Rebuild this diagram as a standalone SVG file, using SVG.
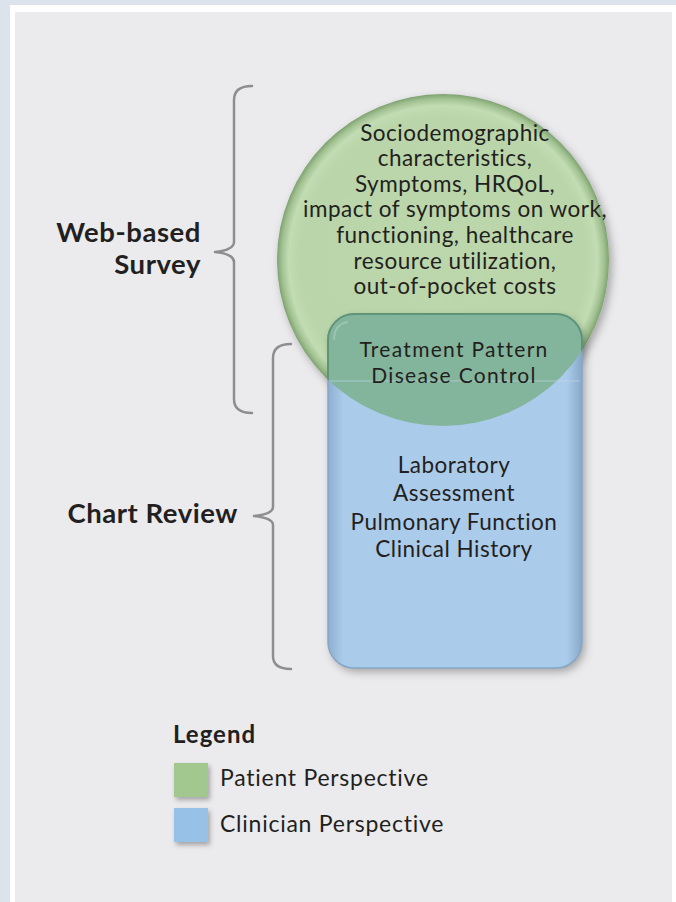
<svg xmlns="http://www.w3.org/2000/svg" width="676" height="902" viewBox="0 0 676 902">
  <style>
    .t { font-family: Lato, "Open Sans", "Liberation Sans", sans-serif; fill: #231f20; }
    .body { font-size: 22.5px; letter-spacing: 0.5px; text-anchor: middle; }
    .ov { font-size: 21px; letter-spacing: 1.3px; text-anchor: middle; }
    .lab { font-size: 27.5px; font-weight: bold; letter-spacing: 0.55px; text-anchor: end; }
    .leg { font-size: 23px; letter-spacing: 0.75px; }
    .legh { font-size: 24px; font-weight: bold; letter-spacing: 1px; }
    .brace { fill: none; stroke: #8e8e90; stroke-width: 2.5; stroke-linejoin: round; stroke-linecap: round; }
  </style>
  <defs>
    <radialGradient id="gCircle" cx="0.5" cy="0.5" r="0.5">
      <stop offset="0" stop-color="#bcd7ab"/>
      <stop offset="0.86" stop-color="#bad5a9"/>
      <stop offset="0.93" stop-color="#c2dcb3"/>
      <stop offset="0.97" stop-color="#a3c393"/>
      <stop offset="1" stop-color="#7fa170"/>
    </radialGradient>
    <clipPath id="clipCircle">
      <circle cx="443" cy="260" r="166"/>
    </clipPath>
    <filter id="shadow" x="-20%" y="-20%" width="140%" height="140%">
      <feDropShadow dx="3" dy="4" stdDeviation="4" flood-color="#000" flood-opacity="0.3"/>
    </filter>
    <filter id="sqShadow" x="-30%" y="-30%" width="170%" height="170%">
      <feDropShadow dx="2" dy="3" stdDeviation="2.5" flood-color="#000" flood-opacity="0.3"/>
    </filter>
    <linearGradient id="gRectEdge" x1="0" y1="0" x2="1" y2="0">
      <stop offset="0" stop-color="#8eaed0"/>
      <stop offset="0.06" stop-color="#abcbea"/>
      <stop offset="0.94" stop-color="#abcbea"/>
      <stop offset="1" stop-color="#88a8c8"/>
    </linearGradient>
  </defs>

  <!-- frame -->
  <rect x="0" y="0" width="676" height="902" fill="#dce3ec"/>
  <rect x="10" y="5" width="666" height="897" fill="#ffffff"/>
  <rect x="15" y="12" width="657" height="890" fill="#ebebed"/>

  <!-- circle node -->
  <g id="web-survey-circle">
    <circle cx="443" cy="260" r="166" fill="url(#gCircle)" filter="url(#shadow)"/>
  </g>

  <!-- rectangle node -->
  <g id="chart-review-rect">
    <rect x="328" y="314" width="254" height="354" rx="26" fill="url(#gRectEdge)" filter="url(#shadow)"/>
    <rect x="328" y="314" width="254" height="354" rx="26" fill="none" stroke="#86a6c6" stroke-width="1.5"/>
    <g clip-path="url(#clipCircle)">
      <rect x="328" y="314" width="254" height="354" rx="26" fill="#83b59d"/>
      <rect x="328" y="314" width="254" height="354" rx="26" fill="none" stroke="#5f9479" stroke-width="2"/>
      <path d="M348,322 Q334,324 334,340" fill="none" stroke="#a5ccb8" stroke-width="2" opacity="0.7"/>
    </g>
    <line x1="330" y1="381" x2="580" y2="381" stroke="#c4d8e8" stroke-width="1" opacity="0.6"/>
  </g>

  <!-- circle text -->
  <g id="web-survey-text" class="t body">
    <text x="455" y="141">Sociodemographic</text>
    <text x="455" y="166">characteristics,</text>
    <text x="455" y="192">Symptoms, HRQoL,</text>
    <text x="455" y="217">impact of symptoms on work,</text>
    <text x="455" y="243">functioning, healthcare</text>
    <text x="455" y="269">resource utilization,</text>
    <text x="455" y="294">out-of-pocket costs</text>
  </g>

  <g id="overlap-text" class="t ov">
    <text x="454" y="357">Treatment Pattern</text>
    <text x="454" y="383">Disease Control</text>
  </g>

  <g id="chart-review-text" class="t body">
    <text x="454" y="473">Laboratory</text>
    <text x="454" y="501">Assessment</text>
    <text x="454" y="530">Pulmonary Function</text>
    <text x="454" y="557">Clinical History</text>
  </g>

  <!-- braces -->
  <g id="connectors">
    <path class="brace" d="M252,86 Q234,86 234,100 L234,242 Q234,250 215,252 Q234,254 234,262 L234,399 Q234,413 252,413"/>
    <path class="brace" d="M291,344 Q273,344 273,358 L273,507 Q273,514 254,516 Q273,518 273,525 L273,656 Q273,669 291,669"/>
  </g>

  <g id="label-web" class="t lab">
    <text x="201" y="242">Web-based</text>
    <text x="201" y="274">Survey</text>
  </g>
  <g id="label-chart" class="t lab">
    <text x="238" y="523">Chart Review</text>
  </g>

  <!-- legend -->
  <g id="legend">
    <text class="t legh" x="173" y="743">Legend</text>
    <rect x="174" y="763" width="34" height="34" fill="#a3c88f" filter="url(#sqShadow)"/>
    <text class="t leg" x="220" y="786">Patient Perspective</text>
    <rect x="174" y="808" width="34" height="34" fill="#97c1e6" filter="url(#sqShadow)"/>
    <text class="t leg" x="220" y="832">Clinician Perspective</text>
  </g>
</svg>
